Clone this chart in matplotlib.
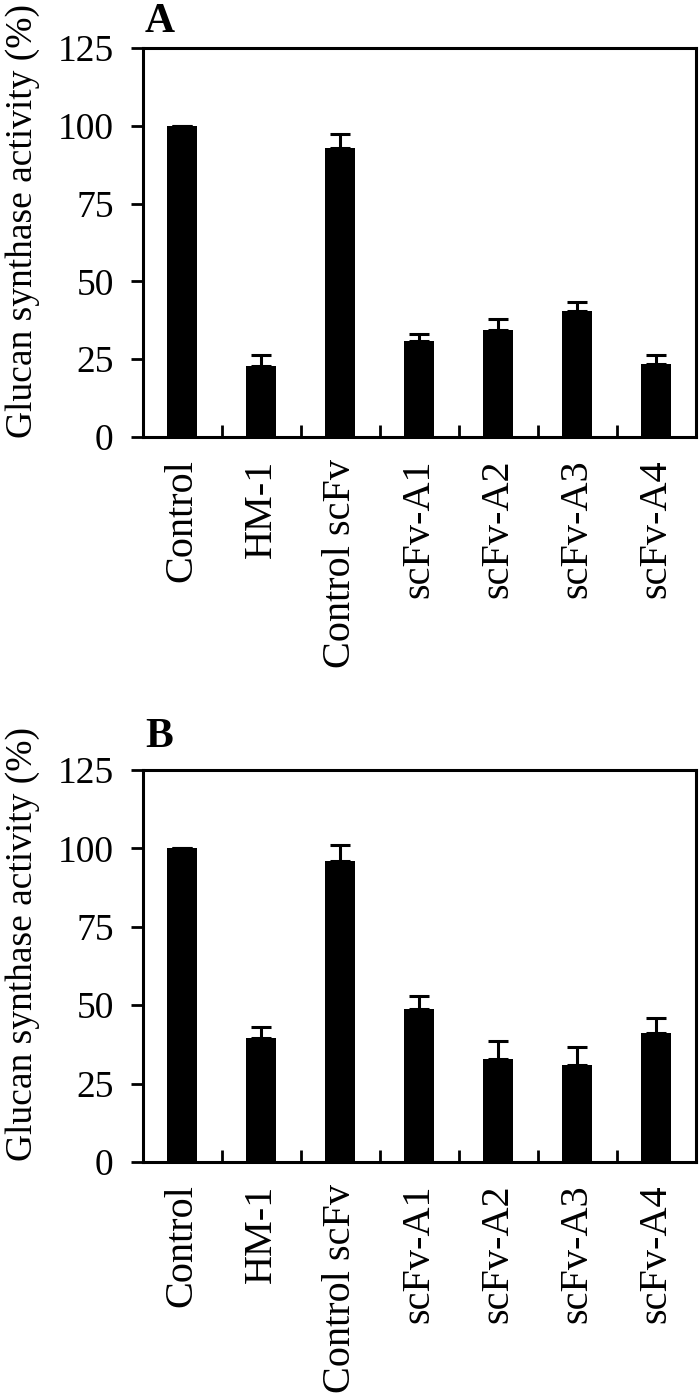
import matplotlib.pyplot as plt
import numpy as np

plt.rcParams['font.family'] = ['Liberation Serif', 'DejaVu Serif']

# data
categories = ["Control", "HM-1", "Control scFv", "scFv-A1", "scFv-A2", "scFv-A3", "scFv-A4"]
values_a = [100, 22.7, 92.9, 30.7, 34.4, 40.6, 23.6]
err_a = [0, 3.6, 4.4, 2.3, 3.6, 2.7, 2.8]
values_b = [100, 39.4, 95.9, 48.9, 32.8, 31.1, 41.1]
err_b = [0, 3.6, 5.1, 3.9, 5.7, 5.7, 4.9]
yticks = [0, 25, 50, 75, 100, 125]

fig = plt.figure(figsize=(7, 13.95), dpi=100)

def panel(rect, vals, errs, letter, letter_y):
    ax = fig.add_axes(rect)
    x = np.arange(len(categories))
    ax.bar(x, vals, width=0.38, color='black',
           yerr=[np.zeros(len(errs)), errs],
           error_kw=dict(ecolor='black', elinewidth=2.2, capsize=7, capthick=2.2))
    ax.set_xlim(-0.5, len(categories) - 0.5)
    ax.set_ylim(0, 125)
    ax.set_yticks(yticks)
    ax.tick_params(axis='y', direction='out', length=9, width=2, labelsize=27, pad=12)
    ax.set_xticks(x)
    ax.set_xticklabels(categories, rotation=90, fontsize=29)
    ax.tick_params(axis='x', which='major', length=0, pad=16)
    ax.set_xticks(x[:-1] + 0.5, minor=True)
    ax.tick_params(axis='x', which='minor', direction='in', length=9, width=2)
    for s in ax.spines.values():
        s.set_linewidth(2.2)
    ax.set_ylabel("Glucan synthase activity (%)", fontsize=27)
    ax.yaxis.set_label_coords(-0.185, 0.555)
    fig.text(0.207, letter_y, letter, fontsize=30, fontweight='bold', va='center', ha='left')
    return ax

panel([0.204, 0.6867, 0.79, 0.2789], values_a, err_a, "A", 0.984)
panel([0.204, 0.167, 0.79, 0.281], values_b, err_b, "B", 0.472)

fig.savefig("out.png", dpi=100)
